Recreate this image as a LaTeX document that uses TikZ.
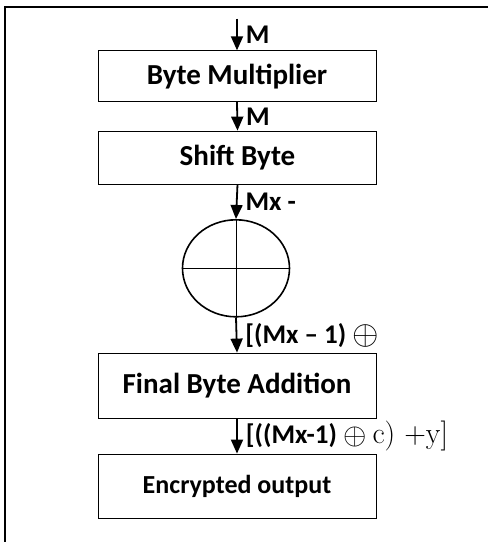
\documentclass[tikz,border=0pt]{standalone}
\usepackage{fontspec}
\usepackage{graphicx}
\setmainfont{Carlito}
\newfontfamily\serifpart{Latin Modern Roman}
\newcommand{\bigxor}[1]{{\fontsize{10}{12}\selectfont\raisebox{-0.2ex}{\scalebox{#1}{$\oplus$}}}}
\usetikzlibrary{arrows.meta,shapes.geometric}
\begin{document}
\begin{tikzpicture}[x=1pt,y=-1pt,
    stagebox/.style={draw,line width=0.8pt,minimum width=278pt,inner sep=0pt,
      font=\fontsize{29}{33}\selectfont\bfseries},
    flow/.style={line width=1.8pt,-{Triangle[width=12pt,length=14pt]}},
    flowlabel/.style={right,inner sep=0pt,xshift=8pt,font=\fontsize{27}{30}\selectfont\bfseries}]
  \useasboundingbox (0,0) rectangle (488,542);
  \draw[line width=2.2pt] (5,6.7) rectangle (500,560);
  \coordinate (in) at (237,18.6);
  \node[stagebox,minimum height=51pt] (mult) at (237,76.2) {Byte Multiplier};
  \node[stagebox,minimum height=53pt] (shift) at (237.5,157.5) {Shift Byte};
  \node[draw,ellipse,line width=1.6pt,minimum width=107pt,minimum height=97pt,inner sep=0pt] (xor) at (236,268.3) {};
  \node[stagebox,minimum height=65pt] (final) at (237,385.5) {Final Byte Addition};
  \node[stagebox,minimum height=64pt] (out) at (237,486) {\fontsize{26}{30}\selectfont Encrypted output};
  % crossing lines of the xor
  \draw[line width=0.9pt] (xor.north) -- (xor.south);
  \draw[line width=0.9pt] (xor.west) -- (xor.east);
  \draw[flow] (in) -- node[flowlabel]{M} (mult.north);
  \draw[flow] (mult.south) -- node[flowlabel]{M} (shift.north);
  \draw[flow] (shift.south) -- node[flowlabel]{Mx -} (xor.north);
  \draw[flow] (xor.south) -- node[flowlabel]{[(Mx – 1) \bigxor{3.4}} (final.north);
  \draw[flow] (final.south) -- node[flowlabel]{[((Mx-1) \bigxor{3.0} {\serifpart\mdseries\fontsize{30}{30}\selectfont c) +y]}} (out.north);
\end{tikzpicture}
\end{document}
